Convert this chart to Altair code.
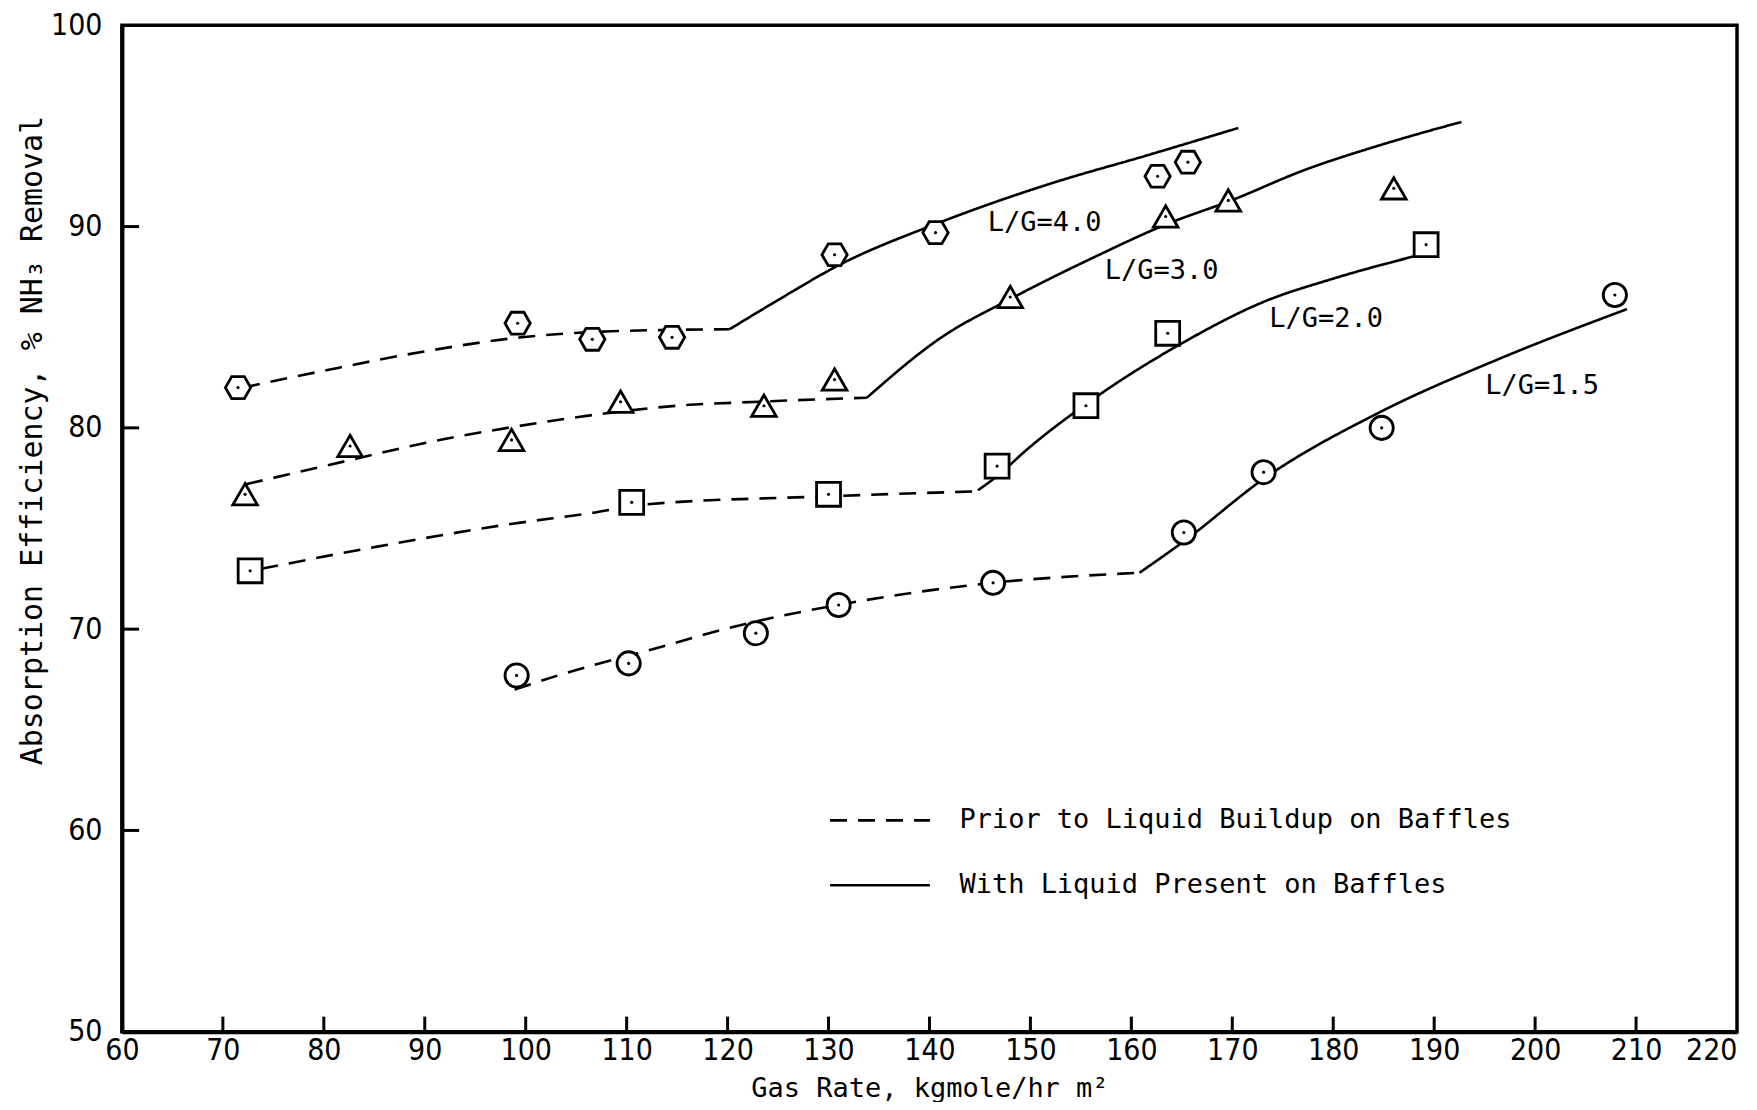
import altair as alt
import pandas as pd

# ---------------- data ----------------
series = ["L/G=4.0", "L/G=3.0", "L/G=2.0", "L/G=1.5"]
part_prior = "Prior to Liquid Buildup on Baffles"
part_with = "With Liquid Present on Baffles"

# measured points
pts_x_40 = [71.5, 99.2, 106.6, 114.5, 130.6, 140.6, 162.6, 165.6]
pts_y_40 = [82.0, 85.2, 84.4, 84.5, 88.6, 89.7, 92.5, 93.2]
pts_x_30 = [72.2, 82.6, 98.6, 109.4, 123.6, 130.6, 148.0, 163.4, 169.6, 186.0]
pts_y_30 = [76.7, 79.1, 79.4, 81.3, 81.1, 82.4, 86.5, 90.5, 91.3, 91.9]
pts_x_20 = [72.7, 110.5, 130.0, 146.7, 155.5, 163.6, 189.2]
pts_y_20 = [72.9, 76.3, 76.7, 78.1, 81.1, 84.7, 89.1]
pts_x_15 = [99.1, 110.2, 122.8, 131.0, 146.3, 165.2, 173.1, 184.8, 207.9]
pts_y_15 = [67.7, 68.3, 69.8, 71.2, 72.3, 74.8, 77.8, 80.0, 86.6]

# fitted curves: prior to liquid buildup (dashed)
prior_x_40 = [72.0, 80.6, 90.0, 99.6, 108.5, 120.2]
prior_y_40 = [82.0, 82.9, 83.8, 84.5, 84.8, 84.9]
prior_x_30 = [72.3, 82.6, 90.5, 98.2, 107.6, 115.0, 123.2, 133.8]
prior_y_30 = [77.2, 78.4, 79.3, 80.0, 80.7, 81.1, 81.3, 81.5]
prior_x_20 = [73.8, 85.3, 98.2, 106.9, 111.9, 130.0, 144.8]
prior_y_20 = [73.0, 74.1, 75.2, 75.8, 76.2, 76.6, 76.85]
prior_x_15 = [98.9, 104.5, 111.1, 122.1, 130.9, 146.2, 160.8]
prior_y_15 = [67.0, 67.9, 68.8, 70.3, 71.2, 72.3, 72.8]

# fitted curves: with liquid present (solid)
with_x_40 = [120.2, 125.5, 130.7, 141.0, 152.4, 161.3, 170.6]
with_y_40 = [84.9, 86.5, 88.0, 90.2, 92.2, 93.5, 94.9]
with_x_30 = [133.8, 141.2, 148.0, 156.4, 163.4, 169.9, 177.1, 185.0, 192.7]
with_y_30 = [81.5, 84.5, 86.4, 88.5, 90.1, 91.3, 92.8, 94.1, 95.2]
with_x_20 = [144.8, 146.7, 149.6, 156.7, 165.0, 173.3, 179.9, 188.6]
with_y_20 = [76.9, 77.6, 78.9, 81.6, 84.2, 86.3, 87.4, 88.6]
with_x_15 = [160.8, 165.3, 173.2, 184.7, 196.3, 209.1]
with_y_15 = [72.8, 74.4, 77.5, 80.8, 83.4, 85.9]

# curve labels (annotation anchor in data units)
label_x = [151.4, 163.0, 179.3, 200.7]
label_y = [90.2, 87.8, 85.4, 82.1]

x_ticks = [60, 70, 80, 90, 100, 110, 120, 130, 140, 150, 160, 170, 180, 190, 200, 210, 220]
y_ticks = [50, 60, 70, 80, 90, 100]
x_inner_ticks = [70, 80, 90, 100, 110, 120, 130, 140, 150, 160, 170, 180, 190, 200, 210]
y_inner_ticks = [60, 70, 80, 90]

# ---------------- tables ----------------
pts_sets = [(pts_x_40, pts_y_40), (pts_x_30, pts_y_30), (pts_x_20, pts_y_20), (pts_x_15, pts_y_15)]
prior_sets = [(prior_x_40, prior_y_40), (prior_x_30, prior_y_30), (prior_x_20, prior_y_20), (prior_x_15, prior_y_15)]
with_sets = [(with_x_40, with_y_40), (with_x_30, with_y_30), (with_x_20, with_y_20), (with_x_15, with_y_15)]

pt_rows = []
for s, (xs, ys) in zip(series, pts_sets):
    for x, y in zip(xs, ys):
        pt_rows.append({"series": s, "x": x, "y": y})
pts_df = pd.DataFrame(pt_rows)

line_rows = []
for part, sets in [(part_prior, prior_sets), (part_with, with_sets)]:
    for s, (xs, ys) in zip(series, sets):
        for i, (x, y) in enumerate(zip(xs, ys)):
            line_rows.append({"series": s, "part": part, "key": s + part, "i": i, "x": x, "y": y})
lines_df = pd.DataFrame(line_rows)

labels_df = pd.DataFrame({"label": series, "x": label_x, "y": label_y})
xt_df = pd.DataFrame({"x": x_inner_ticks})
yt_df = pd.DataFrame({"y": y_inner_ticks})

MONO = "DejaVu Sans Mono"
NUM = "Liberation Sans Narrow, DejaVu Sans Condensed, Liberation Sans"
HEX = "M-1,0L-0.5,-0.866L0.5,-0.866L1,0L0.5,0.866L-0.5,0.866Z"

xscale = alt.Scale(domain=[60, 220], nice=False, zero=False)
yscale = alt.Scale(domain=[50, 100], nice=False, zero=False)

xaxis = alt.Axis(values=x_ticks, ticks=False, grid=False, domain=True, domainColor="black",
                 domainWidth=4, labelFont=NUM, labelFontSize=30, labelColor="black",
                 labelPadding=4, labelFlush=False, labelOverlap=False,
                 labelAlign=alt.condition("datum.value == 220", alt.value("right"), alt.value("center")),
                 title="Gas Rate, kgmole/hr m²", titleFont=MONO, titleFontSize=27,
                 titleFontWeight="normal", titleColor="black", titlePadding=10)
yaxis = alt.Axis(values=y_ticks, ticks=False, grid=False, domain=True, domainColor="black",
                 domainWidth=4, labelFont=NUM, labelFontSize=30, labelColor="black",
                 labelPadding=20, labelFlush=False, labelOverlap=False,
                 title="Absorption Efficiency, % NH₃ Removal", titleFont=MONO, titleFontSize=30,
                 titleFontWeight="normal", titleColor="black", titleBaseline="middle",
                 titleX=-89, titleY=415)

base_x = alt.X("x:Q", scale=xscale, axis=xaxis)
base_y = alt.Y("y:Q", scale=yscale, axis=yaxis)

lines = alt.Chart(lines_df).mark_line(color="black", strokeWidth=2.6, interpolate="monotone").encode(
    x=base_x,
    y=base_y,
    detail="key:N",
    order="i:Q",
    strokeDash=alt.StrokeDash(
        "part:N",
        scale=alt.Scale(domain=[part_prior, part_with], range=[[17, 11], [1, 0]]),
        legend=alt.Legend(orient="none", legendX=707, legendY=744, title=None,
                          symbolType="stroke", symbolSize=10000, symbolStrokeWidth=2.6,
                          symbolStrokeColor="black", labelFont=MONO, labelFontSize=27,
                          labelColor="black", labelOffset=28, rowPadding=0, padding=0,
                          labelLimit=800),
    ),
)

markers = alt.Chart(pts_df).mark_point(filled=True, fill="white", stroke="black", strokeWidth=2.8,
                                        opacity=1).encode(
    x=alt.X("x:Q", scale=xscale),
    y=alt.Y("y:Q", scale=yscale),
    shape=alt.Shape("series:N", scale=alt.Scale(domain=series, range=[HEX, "triangle-up", "square", "circle"]),
                    legend=None),
    size=alt.Size("series:N", scale=alt.Scale(domain=series, range=[640, 540, 470, 520]), legend=None),
)

dots = alt.Chart(pts_df).mark_point(filled=True, color="black", size=10, shape="circle", opacity=1).encode(
    x=alt.X("x:Q", scale=xscale),
    y=alt.Y("y:Q", scale=yscale),
)

texts = alt.Chart(labels_df).mark_text(font=MONO, fontSize=27, color="black", align="center",
                                       baseline="middle").encode(
    x=alt.X("x:Q", scale=xscale),
    y=alt.Y("y:Q", scale=yscale),
    text="label:N",
)

xt = alt.Chart(xt_df).mark_rule(color="black", strokeWidth=3).encode(
    x=alt.X("x:Q", scale=xscale),
    y=alt.datum(50),
    y2=alt.datum(50.75),
)
yt = alt.Chart(yt_df).mark_rule(color="black", strokeWidth=3).encode(
    y=alt.Y("y:Q", scale=yscale),
    x=alt.datum(60),
    x2=alt.datum(61.7),
)

chart = alt.layer(lines, xt, yt, markers, dots, texts).properties(
    width=1616, height=1007,
    padding={"left": 114, "top": 17, "right": 12, "bottom": 70},
    autosize="none",
    background="white",
).configure_view(stroke="black", strokeWidth=3.5)

chart.save("out.html", embed_options={"renderer": "svg", "actions": False})
